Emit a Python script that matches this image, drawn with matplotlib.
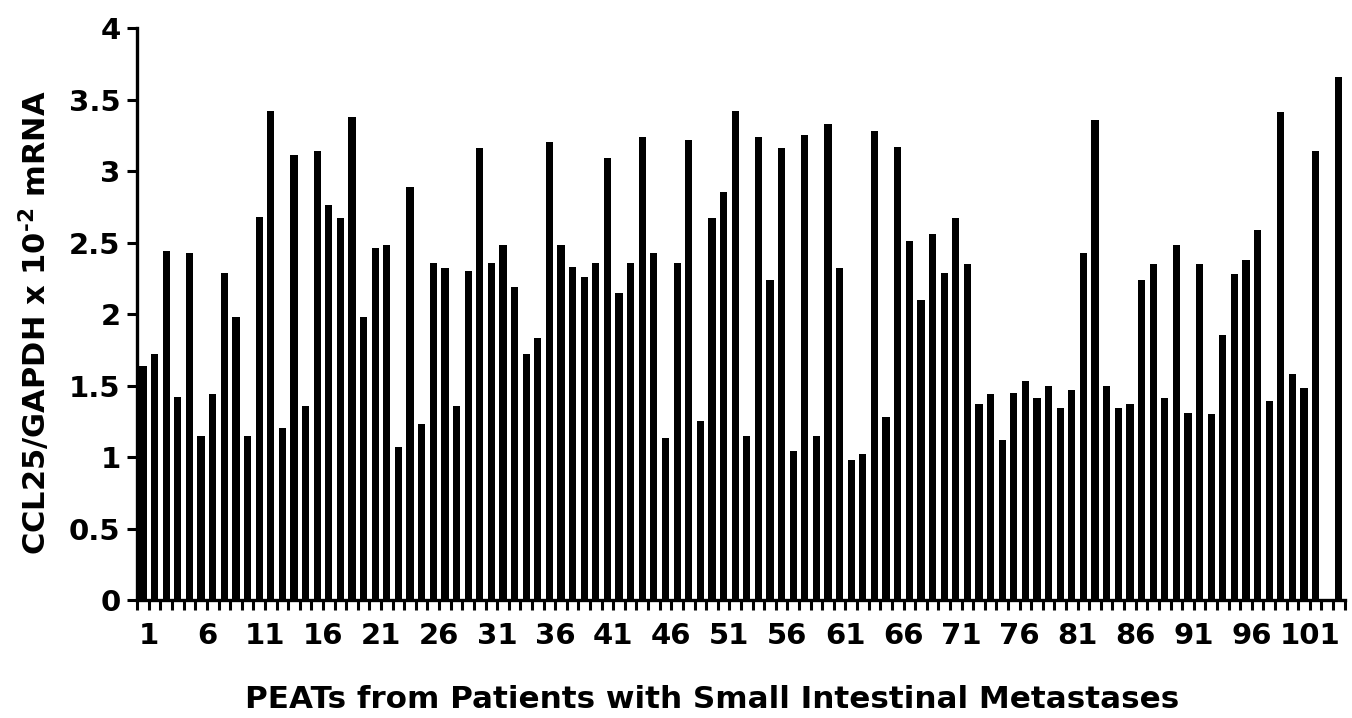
import matplotlib
matplotlib.use("Agg")
import matplotlib.pyplot as plt
import numpy as np

plt.rcParams['font.family'] = ['DejaVu Sans']
plt.rcParams['font.weight'] = 'bold'
plt.rcParams['mathtext.fontset'] = 'custom'
plt.rcParams['mathtext.rm'] = 'DejaVu Sans:bold'
plt.rcParams['mathtext.bf'] = 'DejaVu Sans:bold'
plt.rcParams['mathtext.default'] = 'rm'

# Sample number (1..104); sample 103 has no bar in the reference
samples = list(range(1, 105))
values = [
    1.64, 1.72, 2.44, 1.42, 2.43, 1.15, 1.44, 2.29, 1.98, 1.15,
    2.68, 3.42, 1.20, 3.11, 1.36, 3.14, 2.76, 2.67, 3.38, 1.98,
    2.46, 2.48, 1.07, 2.89, 1.23, 2.36, 2.32, 1.36, 2.30, 3.16,
    2.36, 2.48, 2.19, 1.72, 1.83, 3.20, 2.48, 2.33, 2.26, 2.36,
    3.09, 2.15, 2.36, 3.24, 2.43, 1.13, 2.36, 3.22, 1.25, 2.67,
    2.85, 3.42, 1.15, 3.24, 2.24, 3.16, 1.04, 3.25, 1.15, 3.33,
    2.32, 0.98, 1.02, 3.28, 1.28, 3.17, 2.51, 2.10, 2.56, 2.29,
    2.67, 2.35, 1.37, 1.44, 1.12, 1.45, 1.53, 1.41, 1.50, 1.34,
    1.47, 2.43, 3.36, 1.50, 1.34, 1.37, 2.24, 2.35, 1.41, 2.48,
    1.31, 2.35, 1.30, 1.85, 2.28, 2.38, 2.59, 1.39, 3.41, 1.58,
    1.48, 3.14, np.nan, 3.66,
]
x_tick_labels = [1, 6, 11, 16, 21, 26, 31, 36, 41, 46, 51, 56, 61, 66, 71,
                 76, 81, 86, 91, 96, 101]
y_ticks = [0, 0.5, 1, 1.5, 2, 2.5, 3, 3.5, 4]
y_tick_labels = ['0', '0.5', '1', '1.5', '2', '2.5', '3', '3.5', '4']

fig = plt.figure(figsize=(13.52, 7.18), dpi=100)
ax = fig.add_axes([0.1015, 0.1643, 0.8931, 0.7967])

ax.bar(samples, values, width=0.62, color='black', edgecolor='none')

ax.set_xlim(0.5, len(samples) + 0.5)
ax.set_ylim(0, 4)

# ticks between bars; labels sit on the tick to the right of the labelled bar
tick_pos = [s + 0.5 for s in [0] + samples]
ax.set_xticks(tick_pos)
lab_map = {k + 0.5: str(k) for k in x_tick_labels}
ax.set_xticklabels([lab_map.get(p, '') for p in tick_pos])

ax.set_yticks(y_ticks)
ax.set_yticklabels(y_tick_labels)

for s in ['top', 'right']:
    ax.spines[s].set_visible(False)
for s in ['left', 'bottom']:
    ax.spines[s].set_linewidth(2.4)

ax.tick_params(axis='both', direction='out', length=7, width=2.2,
               labelsize=21)
ax.tick_params(axis='x', pad=9)
ax.tick_params(axis='y', pad=5)
for t in ax.get_xticklabels() + ax.get_yticklabels():
    t.set_fontweight('bold')

ax.set_ylabel(r'CCL25/GAPDH x 10$^{\text{-2}}$ mRNA', fontsize=22,
              fontweight='bold')
ax.set_xlabel('PEATs from Patients with Small Intestinal Metastases',
              fontsize=22.3, fontweight='bold')
ax.yaxis.set_label_coords(-0.0705, 0.485)
ax.xaxis.set_label_coords(0.476, -0.148)
ax.xaxis.label.set_va('top')

fig.savefig('out.png', dpi=100)
